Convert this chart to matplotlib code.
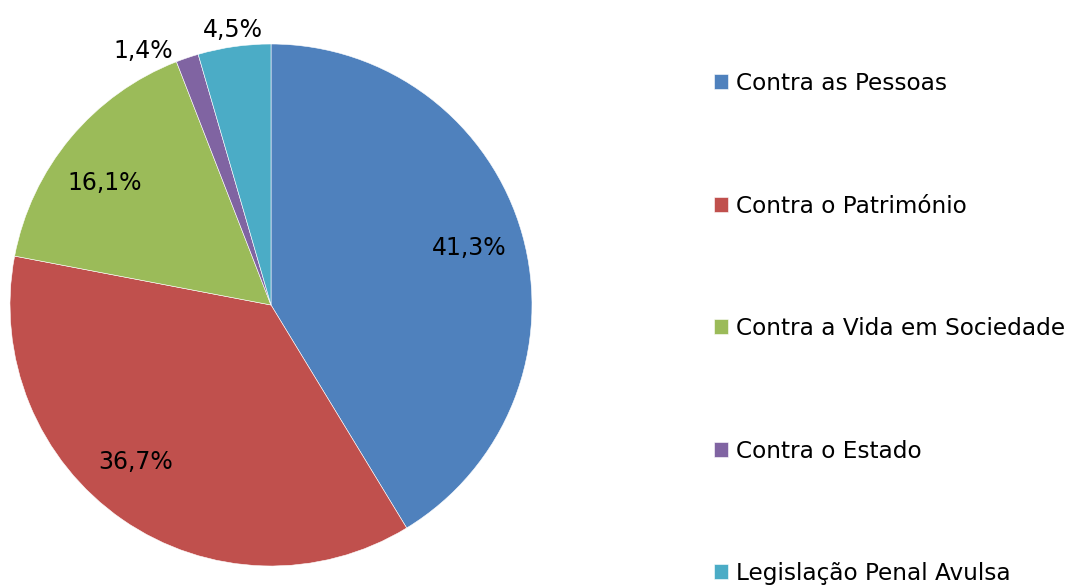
import numpy as np
import matplotlib
matplotlib.use("Agg")
import matplotlib.pyplot as plt

categories = ["Contra as Pessoas", "Contra o Património", "Contra a Vida em Sociedade",
              "Contra o Estado", "Legislação Penal Avulsa"]
values = [41.3, 36.7, 16.1, 1.4, 4.5]
labels = ["41,3%", "36,7%", "16,1%", "1,4%", "4,5%"]
colors = ["#4F81BD", "#C0504D", "#9BBB59", "#8064A2", "#4BACC6"]

# fine-tuning of each label position, in points
label_nudge = [(0, 1), (-13, 9), (-6, -7), (0, -2), (0, -4)]

plt.rcParams["font.family"] = ["DejaVu Sans"]
FS_LEG = 16.7
FS_LAB = 17

W, H = 1068, 585
fig = plt.figure(figsize=(W / 100, H / 100), dpi=100)
cx, cy, r = 271, 305, 261
ax = fig.add_axes([(cx - r) / W, (H - cy - r) / H, 2 * r / W, 2 * r / H])

wedges, _ = ax.pie(values, colors=colors, startangle=90, counterclock=False,
                   radius=1.0, wedgeprops=dict(edgecolor="white", linewidth=0.4))
ax.set_xlim(-1, 1)
ax.set_ylim(-1, 1)
ax.set_aspect("equal")
ax.axis("off")

for w, lab, v, nudge in zip(wedges, labels, values, label_nudge):
    mid = np.deg2rad((w.theta1 + w.theta2) / 2)
    if v > 10:
        d = 0.79
        x, y = d * np.cos(mid), d * np.sin(mid)
        ha, va = "center", "center"
    else:
        d = 1.04
        x, y = d * np.cos(mid), d * np.sin(mid)
        if abs(x) < 0.2:
            ha, va = "center", "bottom"
        else:
            x -= 0.04
            ha, va = "right", "center"
    ax.annotate(lab, (x, y), xytext=nudge, textcoords="offset points",
                ha=ha, va=va, fontsize=FS_LAB, annotation_clip=False)

fig.legend(wedges, categories, loc="upper left", bbox_to_anchor=(714 / W, 1 - 72 / H),
           frameon=False, fontsize=FS_LEG, labelspacing=4.29, handlelength=0.6,
           handleheight=0.6, handletextpad=0.33, borderpad=0, borderaxespad=0)

fig.savefig("out.png", dpi=100)
